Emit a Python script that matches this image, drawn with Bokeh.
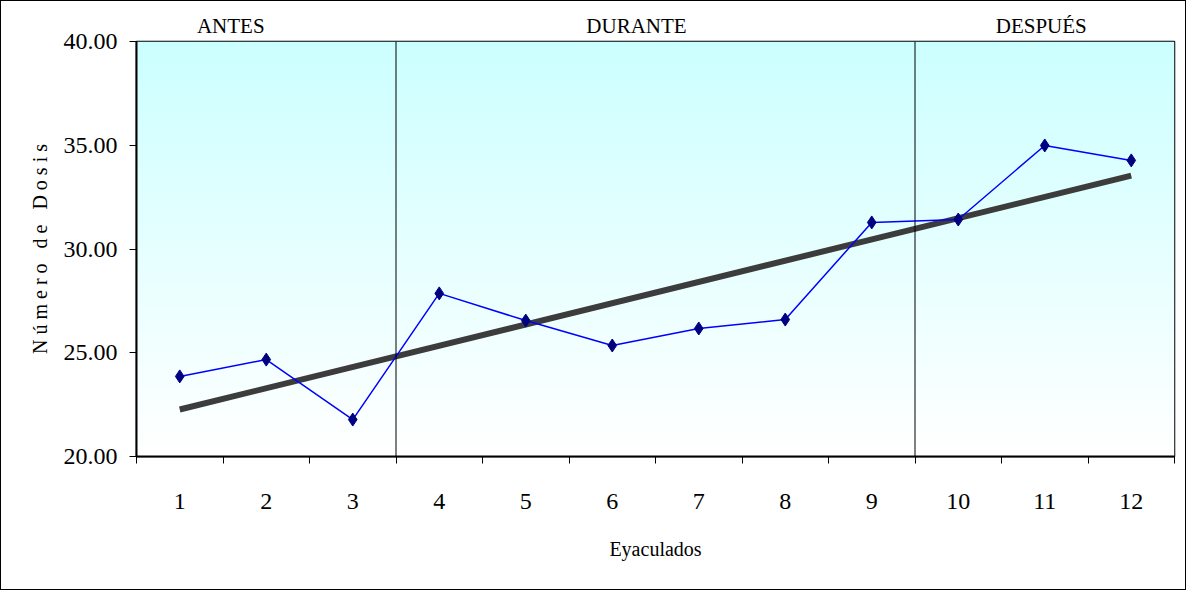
import numpy as np
from bokeh.plotting import figure
from bokeh.models import FixedTicker, Span, PrintfTickFormatter, Range1d, LinearAxis
from bokeh.embed import file_html
from bokeh.resources import INLINE

# ---- data ----
eyaculados = [1, 2, 3, 4, 5, 6, 7, 8, 9, 10, 11, 12]
etiquetas_x = ["1", "2", "3", "4", "5", "6", "7", "8", "9", "10", "11", "12"]
dosis = [23.86, 24.67, 21.78, 27.86, 26.55, 25.35, 26.17, 26.60, 31.28, 31.42, 34.99, 34.27]
periodos = ["ANTES", "DURANTE", "DESPUÉS"]
limites_periodo = [3.5, 9.5]
ticks_y = [20, 25, 30, 35, 40]

FONT = "Liberation Serif"
NB = "\u00a0"

p = figure(width=1186, height=590, output_backend="svg", toolbar_location=None,
           x_range=Range1d(0.5, 12.5), y_range=Range1d(20, 40),
           min_border_left=135, min_border_right=13, min_border_top=40, min_border_bottom=135)
p.styles = {"border": "1px solid black"}

xa = p.below[0]
ya = p.left[0]

# gradient background (white at bottom -> light cyan at top)
N = 256
img = np.zeros((N, 1), dtype=np.uint32)
view = img.view(dtype=np.uint8).reshape((N, 1, 4))
t = np.linspace(0, 1, N)
view[:, 0, 0] = np.round(255 - t * (255 - 204)).astype(np.uint8)
view[:, 0, 1] = 255
view[:, 0, 2] = 255
view[:, 0, 3] = 255
p.image_rgba(image=[img], x=0.5, y=20, dw=12, dh=20, level="image")

# period separators
for loc in limites_periodo:
    p.add_layout(Span(location=loc, dimension="height", line_color="black", line_width=1))

# trend line (least squares fit of the data)
coef = np.polyfit(eyaculados, dosis, 1)
xs = [eyaculados[0], eyaculados[-1]]
p.line(xs, np.polyval(coef, xs), line_color="#3c3c3c", line_width=6)

# data series
p.line(eyaculados, dosis, line_color="#0000FF", line_width=1.5)
p.scatter(eyaculados, dosis, marker="diamond", size=13, color="#000080")

# period labels via a tick-less axis above the plot
label_x = [1.59, 6.28, 10.96]
top_axis = LinearAxis(ticker=FixedTicker(ticks=label_x, minor_ticks=[]))
top_axis.major_label_overrides = {lx: name for lx, name in zip(label_x, periodos)}
top_axis.axis_line_color = None
top_axis.major_tick_line_color = None
top_axis.minor_tick_line_color = None
top_axis.major_tick_out = 0
top_axis.major_tick_in = 0
top_axis.major_label_standoff = 4
top_axis.major_label_text_font = FONT
top_axis.major_label_text_font_size = "21px"
top_axis.major_label_text_color = "black"
p.add_layout(top_axis, "above")

# axes
p.xgrid.grid_line_color = None
p.ygrid.grid_line_color = None
p.outline_line_color = "black"
p.outline_line_width = 1.5
p.background_fill_color = "white"

xa.ticker = FixedTicker(ticks=eyaculados,
                        minor_ticks=[e - 0.5 for e in eyaculados] + [eyaculados[-1] + 0.5])
xa.major_label_overrides = {e: lab for e, lab in zip(eyaculados, etiquetas_x)}
xa.major_tick_line_color = None
xa.minor_tick_line_color = "black"
xa.minor_tick_out = 7
xa.minor_tick_in = 0
xa.major_label_standoff = 30
xa.axis_label = "Eyaculados"
xa.axis_label_standoff = 26

ya.ticker = FixedTicker(ticks=ticks_y, minor_ticks=[])
ya.formatter = PrintfTickFormatter(format="%.2f")
ya.major_tick_out = 7
ya.major_tick_in = 0
ya.minor_tick_line_color = None
ya.major_label_standoff = 12
ya.axis_label = "N ú m e r o" + NB * 3 + "d e" + NB * 3 + "D o s i s"
ya.axis_label_standoff = 10

for ax in (xa, ya):
    ax.axis_line_color = "black"
    ax.axis_line_width = 2
    ax.major_label_text_font = FONT
    ax.major_label_text_font_size = "24px"
    ax.major_label_text_color = "black"
    ax.axis_label_text_font = FONT
    ax.axis_label_text_font_size = "20px"
    ax.axis_label_text_font_style = "normal"
    ax.axis_label_text_color = "black"

open("out.html", "w").write(file_html(p, INLINE))
